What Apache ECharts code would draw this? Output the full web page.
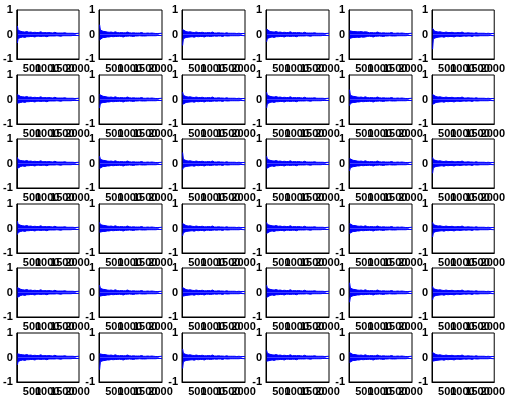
<!DOCTYPE html>
<html>
<head>
<meta charset="utf-8">
<script src="https://cdn.jsdelivr.net/npm/echarts@6/dist/echarts.min.js"></script>
<style>
html,body{margin:0;padding:0;background:#fff;}
#chart{width:508px;height:403px;}
</style>
</head>
<body>
<div id="chart"></div>
<script>
// Tick labels
const xTickLabels = [500, 1000, 1500, 2000];
const yTickLabels = [-1, 0, 1];
const sampleCount = 2048;

const envSamples = [20,45,80,132,198,264,330,396,462,528,594,660,726,792,858,924,990,1056,1122,1188,1254,1320,1386,1452,1518,1584,1650,1716,1782,1848,1914,2048];

// Upper (up_) and lower (lo_) envelopes of each subplot's signal
const up_1_1 = [.35,.17,.14,.13,.11,.1,.12,.09,.1,.08,.09,.08,.08,.11,.07,.08,.07,.08,.07,.06,.09,.06,.06,.06,.06,.07,.05,.05,.05,.05,.04,.05];
const lo_1_1 = [-.35,-.16,-.14,-.12,-.1,-.12,-.09,-.09,-.08,-.08,-.1,-.07,-.07,-.08,-.07,-.07,-.09,-.06,-.06,-.06,-.06,-.05,-.06,-.07,-.05,-.05,-.05,-.05,-.05,-.04,-.04,-.04];
const up_1_2 = [.4,.18,.15,.13,.12,.1,.09,.1,.08,.11,.08,.07,.08,.07,.07,.1,.07,.06,.07,.06,.06,.06,.08,.05,.05,.06,.05,.06,.05,.04,.04,.05];
const lo_1_2 = [-.22,-.17,-.14,-.12,-.12,-.1,-.1,-.08,-.09,-.08,-.08,-.07,-.08,-.1,-.07,-.07,-.06,-.07,-.08,-.06,-.06,-.05,-.06,-.06,-.06,-.05,-.05,-.05,-.05,-.05,-.04,-.04];
const up_1_3 = [.2,.16,.14,.12,.1,.11,.09,.08,.1,.08,.08,.09,.07,.07,.08,.07,.1,.06,.06,.07,.06,.06,.05,.07,.05,.05,.05,.05,.04,.05,.04,.04];
const lo_1_3 = [-.45,-.17,-.14,-.12,-.11,-.1,-.09,-.11,-.08,-.09,-.08,-.08,-.1,-.07,-.07,-.08,-.07,-.06,-.07,-.06,-.06,-.08,-.05,-.06,-.06,-.05,-.05,-.05,-.05,-.05,-.04,-.05];
const up_1_4 = [.22,.16,.14,.12,.11,.1,.12,.09,.1,.08,.09,.08,.08,.11,.07,.08,.07,.08,.07,.06,.09,.06,.06,.06,.06,.07,.05,.05,.05,.05,.04,.05];
const lo_1_4 = [-.3,-.16,-.13,-.12,-.1,-.12,-.09,-.09,-.08,-.08,-.1,-.07,-.07,-.08,-.07,-.07,-.09,-.06,-.06,-.06,-.06,-.05,-.06,-.07,-.05,-.05,-.05,-.05,-.05,-.04,-.04,-.04];
const up_1_5 = [.15,.13,.12,.12,.12,.11,.11,.12,.1,.11,.1,.07,.08,.07,.07,.1,.07,.06,.07,.06,.06,.06,.08,.05,.05,.06,.05,.06,.05,.04,.04,.05];
const lo_1_5 = [-.16,-.13,-.12,-.12,-.12,-.11,-.12,-.1,-.11,-.1,-.08,-.07,-.08,-.1,-.07,-.07,-.06,-.07,-.08,-.06,-.06,-.05,-.06,-.06,-.06,-.05,-.05,-.05,-.05,-.05,-.04,-.04];
const up_1_6 = [.25,.17,.14,.13,.1,.11,.09,.08,.1,.08,.08,.09,.07,.07,.08,.07,.1,.06,.06,.07,.06,.06,.05,.07,.05,.05,.05,.05,.04,.05,.04,.04];
const lo_1_6 = [-.6,-.17,-.14,-.13,-.11,-.1,-.09,-.11,-.08,-.09,-.08,-.08,-.1,-.07,-.07,-.08,-.07,-.06,-.07,-.06,-.06,-.08,-.05,-.06,-.06,-.05,-.05,-.05,-.05,-.05,-.04,-.05];
const up_2_1 = [.2,.15,.13,.12,.11,.1,.12,.09,.1,.08,.09,.08,.08,.11,.07,.08,.07,.08,.07,.06,.09,.06,.06,.06,.06,.07,.05,.05,.05,.05,.04,.05];
const lo_2_1 = [-.15,-.14,-.13,-.12,-.1,-.12,-.09,-.09,-.08,-.08,-.1,-.07,-.07,-.08,-.07,-.07,-.09,-.06,-.06,-.06,-.06,-.05,-.06,-.07,-.05,-.05,-.05,-.05,-.05,-.04,-.04,-.04];
const up_2_2 = [.2,.16,.14,.13,.12,.1,.09,.1,.08,.11,.08,.07,.08,.07,.07,.1,.07,.06,.07,.06,.06,.06,.08,.05,.05,.06,.05,.06,.05,.04,.04,.05];
const lo_2_2 = [-.35,-.16,-.14,-.12,-.12,-.1,-.1,-.08,-.09,-.08,-.08,-.07,-.08,-.1,-.07,-.07,-.06,-.07,-.08,-.06,-.06,-.05,-.06,-.06,-.06,-.05,-.05,-.05,-.05,-.05,-.04,-.04];
const up_2_3 = [.3,.17,.14,.12,.1,.11,.09,.08,.1,.08,.08,.09,.07,.07,.08,.07,.1,.06,.06,.07,.06,.06,.05,.07,.05,.05,.05,.05,.04,.05,.04,.04];
const lo_2_3 = [-.2,-.15,-.13,-.12,-.11,-.1,-.09,-.11,-.08,-.09,-.08,-.08,-.1,-.07,-.07,-.08,-.07,-.06,-.07,-.06,-.06,-.08,-.05,-.06,-.06,-.05,-.05,-.05,-.05,-.05,-.04,-.05];
const up_2_4 = [.3,.17,.14,.13,.11,.1,.12,.09,.1,.08,.09,.08,.08,.11,.07,.08,.07,.08,.07,.06,.09,.06,.06,.06,.06,.07,.05,.05,.05,.05,.04,.05];
const lo_2_4 = [-.35,-.17,-.14,-.12,-.1,-.12,-.09,-.09,-.08,-.08,-.1,-.07,-.07,-.08,-.07,-.07,-.09,-.06,-.06,-.06,-.06,-.05,-.06,-.07,-.05,-.05,-.05,-.05,-.05,-.04,-.04,-.04];
const up_2_5 = [.4,.17,.14,.13,.12,.1,.09,.1,.08,.11,.08,.07,.08,.07,.07,.1,.07,.06,.07,.06,.06,.06,.08,.05,.05,.06,.05,.06,.05,.04,.04,.05];
const lo_2_5 = [-.25,-.16,-.14,-.12,-.12,-.1,-.1,-.08,-.09,-.08,-.08,-.07,-.08,-.1,-.07,-.07,-.06,-.07,-.08,-.06,-.06,-.05,-.06,-.06,-.06,-.05,-.05,-.05,-.05,-.05,-.04,-.04];
const up_2_6 = [.2,.15,.13,.12,.1,.11,.09,.08,.1,.08,.08,.09,.07,.07,.08,.07,.1,.06,.06,.07,.06,.06,.05,.07,.05,.05,.05,.05,.04,.05,.04,.04];
const lo_2_6 = [-.2,-.15,-.13,-.12,-.11,-.1,-.09,-.11,-.08,-.09,-.08,-.08,-.1,-.07,-.07,-.08,-.07,-.06,-.07,-.06,-.06,-.08,-.05,-.06,-.06,-.05,-.05,-.05,-.05,-.05,-.04,-.05];
const up_3_1 = [.25,.16,.14,.12,.11,.1,.12,.09,.1,.08,.09,.08,.08,.11,.07,.08,.07,.08,.07,.06,.09,.06,.06,.06,.06,.07,.05,.05,.05,.05,.04,.05];
const lo_3_1 = [-.2,-.15,-.13,-.12,-.1,-.12,-.09,-.09,-.08,-.08,-.1,-.07,-.07,-.08,-.07,-.07,-.09,-.06,-.06,-.06,-.06,-.05,-.06,-.07,-.05,-.05,-.05,-.05,-.05,-.04,-.04,-.04];
const up_3_2 = [.3,.17,.14,.13,.12,.1,.09,.1,.08,.11,.08,.07,.08,.07,.07,.1,.07,.06,.07,.06,.06,.06,.08,.05,.05,.06,.05,.06,.05,.04,.04,.05];
const lo_3_2 = [-.2,-.15,-.13,-.12,-.12,-.1,-.1,-.08,-.09,-.08,-.08,-.07,-.08,-.1,-.07,-.07,-.06,-.07,-.08,-.06,-.06,-.05,-.06,-.06,-.06,-.05,-.05,-.05,-.05,-.05,-.04,-.04];
const up_3_3 = [.45,.17,.14,.12,.1,.11,.09,.08,.1,.08,.08,.09,.07,.07,.08,.07,.1,.06,.06,.07,.06,.06,.05,.07,.05,.05,.05,.05,.04,.05,.04,.04];
const lo_3_3 = [-.25,-.16,-.13,-.12,-.11,-.1,-.09,-.11,-.08,-.09,-.08,-.08,-.1,-.07,-.07,-.08,-.07,-.06,-.07,-.06,-.06,-.08,-.05,-.06,-.06,-.05,-.05,-.05,-.05,-.05,-.04,-.05];
const up_3_4 = [.3,.17,.14,.13,.11,.1,.12,.09,.1,.08,.09,.08,.08,.11,.07,.08,.07,.08,.07,.06,.09,.06,.06,.06,.06,.07,.05,.05,.05,.05,.04,.05];
const lo_3_4 = [-.2,-.15,-.13,-.12,-.1,-.12,-.09,-.09,-.08,-.08,-.1,-.07,-.07,-.08,-.07,-.07,-.09,-.06,-.06,-.06,-.06,-.05,-.06,-.07,-.05,-.05,-.05,-.05,-.05,-.04,-.04,-.04];
const up_3_5 = [.2,.16,.14,.13,.12,.1,.09,.1,.08,.11,.08,.07,.08,.07,.07,.1,.07,.06,.07,.06,.06,.06,.08,.05,.05,.06,.05,.06,.05,.04,.04,.05];
const lo_3_5 = [-.3,-.17,-.14,-.13,-.12,-.1,-.1,-.08,-.09,-.08,-.08,-.07,-.08,-.1,-.07,-.07,-.06,-.07,-.08,-.06,-.06,-.05,-.06,-.06,-.06,-.05,-.05,-.05,-.05,-.05,-.04,-.04];
const up_3_6 = [.25,.16,.14,.12,.1,.11,.09,.08,.1,.08,.08,.09,.07,.07,.08,.07,.1,.06,.06,.07,.06,.06,.05,.07,.05,.05,.05,.05,.04,.05,.04,.04];
const lo_3_6 = [-.4,-.17,-.14,-.12,-.11,-.1,-.09,-.11,-.08,-.09,-.08,-.08,-.1,-.07,-.07,-.08,-.07,-.06,-.07,-.06,-.06,-.08,-.05,-.06,-.06,-.05,-.05,-.05,-.05,-.05,-.04,-.05];
const up_4_1 = [.3,.17,.14,.13,.11,.1,.12,.09,.1,.08,.09,.08,.08,.11,.07,.08,.07,.08,.07,.06,.09,.06,.06,.06,.06,.07,.05,.05,.05,.05,.04,.05];
const lo_4_1 = [-.25,-.16,-.13,-.12,-.1,-.12,-.09,-.09,-.08,-.08,-.1,-.07,-.07,-.08,-.07,-.07,-.09,-.06,-.06,-.06,-.06,-.05,-.06,-.07,-.05,-.05,-.05,-.05,-.05,-.04,-.04,-.04];
const up_4_2 = [.25,.16,.14,.13,.12,.1,.09,.1,.08,.11,.08,.07,.08,.07,.07,.1,.07,.06,.07,.06,.06,.06,.08,.05,.05,.06,.05,.06,.05,.04,.04,.05];
const lo_4_2 = [-.15,-.14,-.13,-.12,-.12,-.1,-.1,-.08,-.09,-.08,-.08,-.07,-.08,-.1,-.07,-.07,-.06,-.07,-.08,-.06,-.06,-.05,-.06,-.06,-.06,-.05,-.05,-.05,-.05,-.05,-.04,-.04];
const up_4_3 = [.2,.15,.13,.12,.1,.11,.09,.08,.1,.08,.08,.09,.07,.07,.08,.07,.1,.06,.06,.07,.06,.06,.05,.07,.05,.05,.05,.05,.04,.05,.04,.04];
const lo_4_3 = [-.3,-.17,-.14,-.12,-.11,-.1,-.09,-.11,-.08,-.09,-.08,-.08,-.1,-.07,-.07,-.08,-.07,-.06,-.07,-.06,-.06,-.08,-.05,-.06,-.06,-.05,-.05,-.05,-.05,-.05,-.04,-.05];
const up_4_4 = [.25,.16,.14,.13,.11,.1,.12,.09,.1,.08,.09,.08,.08,.11,.07,.08,.07,.08,.07,.06,.09,.06,.06,.06,.06,.07,.05,.05,.05,.05,.04,.05];
const lo_4_4 = [-.2,-.15,-.13,-.12,-.1,-.12,-.09,-.09,-.08,-.08,-.1,-.07,-.07,-.08,-.07,-.07,-.09,-.06,-.06,-.06,-.06,-.05,-.06,-.07,-.05,-.05,-.05,-.05,-.05,-.04,-.04,-.04];
const up_4_5 = [.2,.15,.13,.12,.12,.1,.09,.1,.08,.11,.08,.07,.08,.07,.07,.1,.07,.06,.07,.06,.06,.06,.08,.05,.05,.06,.05,.06,.05,.04,.04,.05];
const lo_4_5 = [-.2,-.15,-.13,-.12,-.12,-.1,-.1,-.08,-.09,-.08,-.08,-.07,-.08,-.1,-.07,-.07,-.06,-.07,-.08,-.06,-.06,-.05,-.06,-.06,-.06,-.05,-.05,-.05,-.05,-.05,-.04,-.04];
const up_4_6 = [.25,.16,.14,.12,.1,.11,.09,.08,.1,.08,.08,.09,.07,.07,.08,.07,.1,.06,.06,.07,.06,.06,.05,.07,.05,.05,.05,.05,.04,.05,.04,.04];
const lo_4_6 = [-.35,-.17,-.14,-.12,-.11,-.1,-.09,-.11,-.08,-.09,-.08,-.08,-.1,-.07,-.07,-.08,-.07,-.06,-.07,-.06,-.06,-.08,-.05,-.06,-.06,-.05,-.05,-.05,-.05,-.05,-.04,-.05];
const up_5_1 = [.2,.16,.14,.13,.11,.1,.12,.09,.1,.08,.09,.08,.08,.11,.07,.08,.07,.08,.07,.06,.09,.06,.06,.06,.06,.07,.05,.05,.05,.05,.04,.05];
const lo_5_1 = [-.2,-.16,-.14,-.12,-.1,-.12,-.09,-.09,-.08,-.08,-.1,-.07,-.07,-.08,-.07,-.07,-.09,-.06,-.06,-.06,-.06,-.05,-.06,-.07,-.05,-.05,-.05,-.05,-.05,-.04,-.04,-.04];
const up_5_2 = [.3,.17,.14,.13,.12,.1,.09,.1,.08,.11,.08,.07,.08,.07,.07,.1,.07,.06,.07,.06,.06,.06,.08,.05,.05,.06,.05,.06,.05,.04,.04,.05];
const lo_5_2 = [-.15,-.14,-.13,-.12,-.12,-.1,-.1,-.08,-.09,-.08,-.08,-.07,-.08,-.1,-.07,-.07,-.06,-.07,-.08,-.06,-.06,-.05,-.06,-.06,-.06,-.05,-.05,-.05,-.05,-.05,-.04,-.04];
const up_5_3 = [.2,.15,.13,.12,.1,.11,.09,.08,.1,.08,.08,.09,.07,.07,.08,.07,.1,.06,.06,.07,.06,.06,.05,.07,.05,.05,.05,.05,.04,.05,.04,.04];
const lo_5_3 = [-.15,-.14,-.13,-.12,-.11,-.1,-.09,-.11,-.08,-.09,-.08,-.08,-.1,-.07,-.07,-.08,-.07,-.06,-.07,-.06,-.06,-.08,-.05,-.06,-.06,-.05,-.05,-.05,-.05,-.05,-.04,-.05];
const up_5_4 = [.3,.17,.14,.13,.11,.1,.12,.09,.1,.08,.09,.08,.08,.11,.07,.08,.07,.08,.07,.06,.09,.06,.06,.06,.06,.07,.05,.05,.05,.05,.04,.05];
const lo_5_4 = [-.2,-.15,-.13,-.12,-.1,-.12,-.09,-.09,-.08,-.08,-.1,-.07,-.07,-.08,-.07,-.07,-.09,-.06,-.06,-.06,-.06,-.05,-.06,-.07,-.05,-.05,-.05,-.05,-.05,-.04,-.04,-.04];
const up_5_5 = [.4,.18,.15,.13,.12,.1,.09,.1,.08,.11,.08,.07,.08,.07,.07,.1,.07,.06,.07,.06,.06,.06,.08,.05,.05,.06,.05,.06,.05,.04,.04,.05];
const lo_5_5 = [-.4,-.18,-.15,-.13,-.12,-.1,-.1,-.08,-.09,-.08,-.08,-.07,-.08,-.1,-.07,-.07,-.06,-.07,-.08,-.06,-.06,-.05,-.06,-.06,-.06,-.05,-.05,-.05,-.05,-.05,-.04,-.04];
const up_5_6 = [.25,.16,.14,.12,.1,.11,.09,.08,.1,.08,.08,.09,.07,.07,.08,.07,.1,.06,.06,.07,.06,.06,.05,.07,.05,.05,.05,.05,.04,.05,.04,.04];
const lo_5_6 = [-.3,-.17,-.14,-.12,-.11,-.1,-.09,-.11,-.08,-.09,-.08,-.08,-.1,-.07,-.07,-.08,-.07,-.06,-.07,-.06,-.06,-.08,-.05,-.06,-.06,-.05,-.05,-.05,-.05,-.05,-.04,-.05];
const up_6_1 = [.15,.14,.13,.12,.11,.1,.12,.09,.1,.08,.09,.08,.08,.11,.07,.08,.07,.08,.07,.06,.09,.06,.06,.06,.06,.07,.05,.05,.05,.05,.04,.05];
const lo_6_1 = [-.3,-.16,-.14,-.12,-.1,-.12,-.09,-.09,-.08,-.08,-.1,-.07,-.07,-.08,-.07,-.07,-.09,-.06,-.06,-.06,-.06,-.05,-.06,-.07,-.05,-.05,-.05,-.05,-.05,-.04,-.04,-.04];
const up_6_2 = [.15,.15,.13,.12,.12,.1,.09,.1,.08,.11,.08,.07,.08,.07,.07,.1,.07,.06,.07,.06,.06,.06,.08,.05,.05,.06,.05,.06,.05,.04,.04,.05];
const lo_6_2 = [-.5,-.17,-.14,-.13,-.12,-.1,-.1,-.08,-.09,-.08,-.08,-.07,-.08,-.1,-.07,-.07,-.06,-.07,-.08,-.06,-.06,-.05,-.06,-.06,-.06,-.05,-.05,-.05,-.05,-.05,-.04,-.04];
const up_6_3 = [.35,.17,.14,.12,.1,.11,.09,.08,.1,.08,.08,.09,.07,.07,.08,.07,.1,.06,.06,.07,.06,.06,.05,.07,.05,.05,.05,.05,.04,.05,.04,.04];
const lo_6_3 = [-.45,-.17,-.14,-.12,-.11,-.1,-.09,-.11,-.08,-.09,-.08,-.08,-.1,-.07,-.07,-.08,-.07,-.06,-.07,-.06,-.06,-.08,-.05,-.06,-.06,-.05,-.05,-.05,-.05,-.05,-.04,-.05];
const up_6_4 = [.3,.17,.14,.13,.11,.1,.12,.09,.1,.08,.09,.08,.08,.11,.07,.08,.07,.08,.07,.06,.09,.06,.06,.06,.06,.07,.05,.05,.05,.05,.04,.05];
const lo_6_4 = [-.15,-.14,-.13,-.12,-.1,-.12,-.09,-.09,-.08,-.08,-.1,-.07,-.07,-.08,-.07,-.07,-.09,-.06,-.06,-.06,-.06,-.05,-.06,-.07,-.05,-.05,-.05,-.05,-.05,-.04,-.04,-.04];
const up_6_5 = [.2,.15,.13,.12,.12,.1,.09,.1,.08,.11,.08,.07,.08,.07,.07,.1,.07,.06,.07,.06,.06,.06,.08,.05,.05,.06,.05,.06,.05,.04,.04,.05];
const lo_6_5 = [-.2,-.15,-.13,-.12,-.12,-.1,-.1,-.08,-.09,-.08,-.08,-.07,-.08,-.1,-.07,-.07,-.06,-.07,-.08,-.06,-.06,-.05,-.06,-.06,-.06,-.05,-.05,-.05,-.05,-.05,-.04,-.04];
const up_6_6 = [.2,.14,.13,.12,.1,.11,.09,.08,.1,.08,.08,.09,.07,.07,.08,.07,.1,.06,.06,.07,.06,.06,.05,.07,.05,.05,.05,.05,.04,.05,.04,.04];
const lo_6_6 = [-.15,-.14,-.13,-.12,-.11,-.1,-.09,-.11,-.08,-.09,-.08,-.08,-.1,-.07,-.07,-.08,-.07,-.06,-.07,-.06,-.06,-.08,-.05,-.06,-.06,-.05,-.05,-.05,-.05,-.05,-.04,-.05];

const panels = [
  [up_1_1, lo_1_1], [up_1_2, lo_1_2], [up_1_3, lo_1_3], [up_1_4, lo_1_4], [up_1_5, lo_1_5], [up_1_6, lo_1_6],
  [up_2_1, lo_2_1], [up_2_2, lo_2_2], [up_2_3, lo_2_3], [up_2_4, lo_2_4], [up_2_5, lo_2_5], [up_2_6, lo_2_6],
  [up_3_1, lo_3_1], [up_3_2, lo_3_2], [up_3_3, lo_3_3], [up_3_4, lo_3_4], [up_3_5, lo_3_5], [up_3_6, lo_3_6],
  [up_4_1, lo_4_1], [up_4_2, lo_4_2], [up_4_3, lo_4_3], [up_4_4, lo_4_4], [up_4_5, lo_4_5], [up_4_6, lo_4_6],
  [up_5_1, lo_5_1], [up_5_2, lo_5_2], [up_5_3, lo_5_3], [up_5_4, lo_5_4], [up_5_5, lo_5_5], [up_5_6, lo_5_6],
  [up_6_1, lo_6_1], [up_6_2, lo_6_2], [up_6_3, lo_6_3], [up_6_4, lo_6_4], [up_6_5, lo_6_5], [up_6_6, lo_6_6]
];

const font = { color: '#000', fontSize: 11, fontWeight: 'bold', fontFamily: '"Liberation Sans", Arial, sans-serif' };
const grids = [], xAxes = [], yAxes = [], series = [];
panels.forEach((pair, i) => {
  const r = Math.floor(i / 6), c = i % 6;
  grids.push({
    left: Math.round(16 + c * 83.2), top: Math.round(10 + r * 64.6),
    width: 63, height: 49,
    show: true, borderColor: '#000', borderWidth: 1, backgroundColor: '#fff'
  });
  xAxes.push({
    gridIndex: i, type: 'value', min: 0, max: sampleCount, interval: 500,
    splitLine: { show: false }, axisTick: { show: false },
    axisLine: { show: true, onZero: false, lineStyle: { color: '#000', width: 1 } },
    axisLabel: Object.assign({ margin: 4, hideOverlap: false,
      formatter: v => xTickLabels.includes(v) ? String(v) : '' }, font)
  });
  yAxes.push({
    gridIndex: i, type: 'value', min: -1, max: 1, interval: 1,
    splitLine: { show: false }, axisTick: { show: false },
    axisLine: { show: true, onZero: false, lineStyle: { color: '#000', width: 1 } },
    axisLabel: Object.assign({ margin: 4, hideOverlap: false,
      formatter: v => yTickLabels.includes(v) ? String(v) : '' }, font)
  });
  pair.forEach(env => {
    series.push({
      type: 'line', xAxisIndex: i, yAxisIndex: i,
      data: env.map((v, k) => [envSamples[k], v]),
      showSymbol: false, symbol: 'none', silent: true,
      lineStyle: { color: '#0000ff', width: 1 },
      areaStyle: { color: '#0000ff', opacity: 1, origin: 'auto' }
    });
  });
});

const chart = echarts.init(document.getElementById('chart'), null, { renderer: 'canvas' });
chart.setOption({
  animation: false,
  backgroundColor: '#fff',
  grid: grids, xAxis: xAxes, yAxis: yAxes, series: series
});
</script>
</body>
</html>
